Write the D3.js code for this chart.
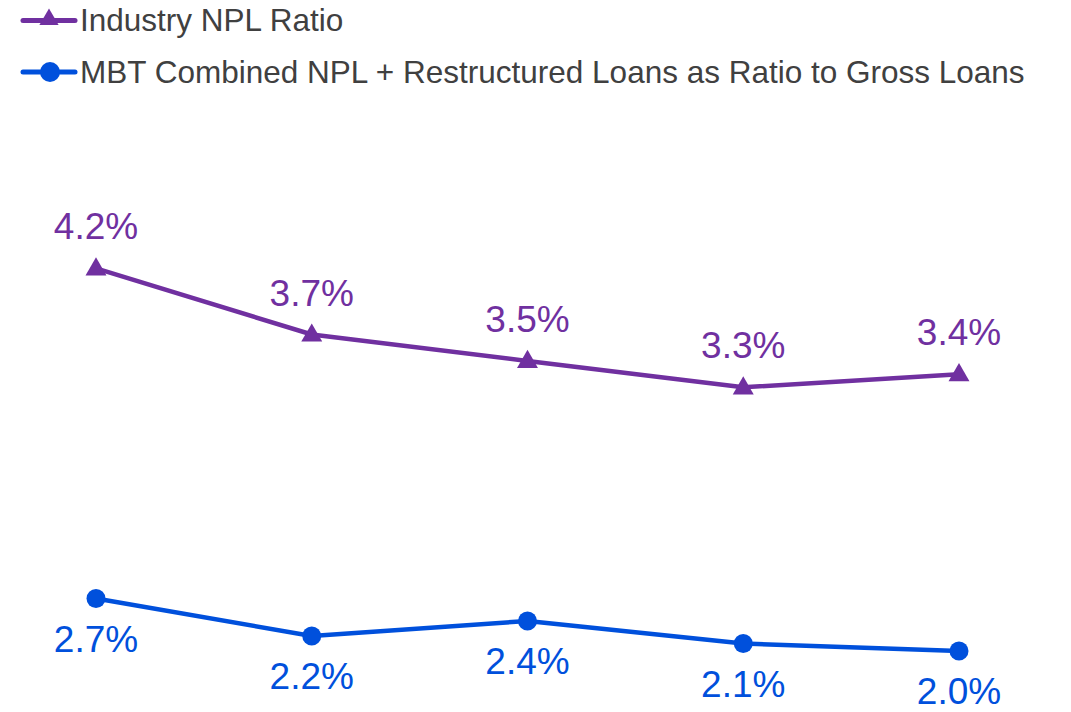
<!DOCTYPE html>
<html>
<head>
<meta charset="utf-8">
<script src="https://cdn.jsdelivr.net/npm/d3@7"></script>
<style>
  html, body { margin: 0; padding: 0; background: #ffffff; }
  svg { display: block; font-family: "Liberation Sans", Arial, sans-serif; }
</style>
</head>
<body>
<svg id="chart" width="1071" height="712"></svg>
<script>
// Reporting periods (not labelled on the chart)
const periods = ["P1", "P2", "P3", "P4", "P5"];

// Industry NPL ratio, %
const industryNpl = [4.2, 3.7, 3.5, 3.3, 3.4];

// MBT combined NPL + restructured loans as ratio to gross loans, %
const mbtCombined = [2.7, 2.2, 2.4, 2.1, 2.0];

const seriesNames = [
  "Industry NPL Ratio",
  "MBT Combined NPL + Restructured Loans as Ratio to Gross Loans"
];

const purple = "#7030A0";
const blue = "#0050DC";
const legendGray = "#404040";

const svg = d3.select("#chart");

const x = d3.scalePoint().domain(periods).range([96, 959]);

// Each series sits on its own vertical scale
const yIndustry = d3.scaleLinear().domain([3.0, 4.4]).range([427, 242]);
const yMbt = d3.scaleLinear().domain([1.8, 2.8]).range([666, 591]);

const triangle = d3.symbol().type(d3.symbolTriangle).size(190);

function drawSeries(values, y, color, marker, labelDy) {
  const g = svg.append("g");
  const line = d3.line()
    .x((d, i) => x(periods[i]))
    .y(d => y(d));
  g.append("path")
    .datum(values)
    .attr("fill", "none")
    .attr("stroke", color)
    .attr("stroke-width", 4.5)
    .attr("stroke-linejoin", "round")
    .attr("d", line);

  if (marker === "triangle") {
    g.selectAll("path.mark")
      .data(values)
      .join("path")
      .attr("class", "mark")
      .attr("d", triangle)
      .attr("fill", color)
      .attr("transform", (d, i) => `translate(${x(periods[i])},${y(d) + 1})`);
  } else {
    g.selectAll("circle.mark")
      .data(values)
      .join("circle")
      .attr("class", "mark")
      .attr("cx", (d, i) => x(periods[i]))
      .attr("cy", d => y(d))
      .attr("r", 9.5)
      .attr("fill", color);
  }

  g.selectAll("text.value")
    .data(values)
    .join("text")
    .attr("class", "value")
    .attr("x", (d, i) => x(periods[i]))
    .attr("y", d => y(d) + labelDy)
    .attr("text-anchor", "middle")
    .attr("fill", color)
    .attr("font-size", 37)
    .text(d => d.toFixed(1) + "%");
}

drawSeries(industryNpl, yIndustry, purple, "triangle", -29);
drawSeries(mbtCombined, yMbt, blue, "circle", 53);

// Legend
const legend = svg.append("g");
const legendItems = [
  { name: seriesNames[0], color: purple, marker: "triangle", y: 20.5 },
  { name: seriesNames[1], color: blue, marker: "circle", y: 72 }
];
legendItems.forEach(item => {
  legend.append("line")
    .attr("x1", 23).attr("x2", 75)
    .attr("y1", item.y).attr("y2", item.y)
    .attr("stroke", item.color)
    .attr("stroke-width", 5)
    .attr("stroke-linecap", "round");
  if (item.marker === "triangle") {
    legend.append("path")
      .attr("d", d3.symbol().type(d3.symbolTriangle).size(160))
      .attr("fill", item.color)
      .attr("transform", `translate(49,${item.y - 1})`);
  } else {
    legend.append("circle")
      .attr("cx", 50).attr("cy", item.y).attr("r", 10)
      .attr("fill", item.color);
  }
  legend.append("text")
    .attr("x", 80)
    .attr("y", item.y + 10.5)
    .attr("fill", legendGray)
    .attr("font-size", 31.5)
    .text(item.name);
});
</script>
</body>
</html>
